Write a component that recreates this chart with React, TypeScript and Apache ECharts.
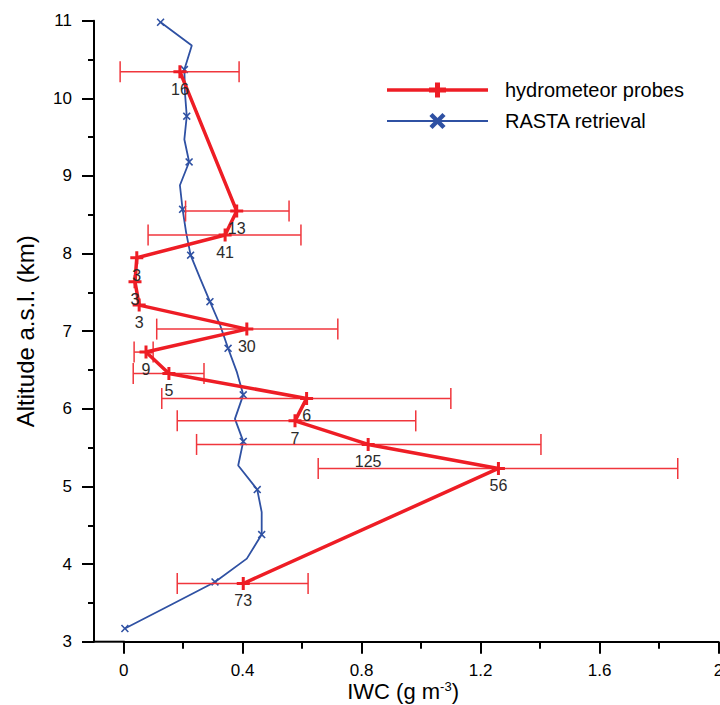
import React, { useEffect, useRef } from 'react';
import * as echarts from 'echarts';

// Hydrometeor probes (in-situ)
const probeIWC = [0.189, 0.38, 0.341, 0.044, 0.038, 0.052, 0.414, 0.075, 0.152, 0.615, 0.576, 0.822, 1.26, 0.402];
const probeAlt = [10.343, 8.548, 8.239, 7.946, 7.637, 7.336, 7.027, 6.731, 6.456, 6.134, 5.845, 5.541, 5.232, 3.75];
const probeLow = [-0.012, 0.208, 0.082, 0.044, 0.038, 0.052, 0.111, 0.035, 0.032, 0.128, 0.18, 0.245, 0.654, 0.18];
const probeHigh = [0.388, 0.556, 0.596, 0.044, 0.038, 0.052, 0.72, 0.099, 0.27, 1.1, 0.982, 1.403, 1.863, 0.62];
const probeCount = [16, 13, 41, 3, 3, 3, 30, 9, 5, 6, 7, 125, 56, 73];

// RASTA retrieval
const rastaAlt = [10.98, 10.68, 10.37, 10.07, 9.77, 9.47, 9.18, 8.88, 8.57, 8.27, 7.98, 7.68, 7.38, 7.08, 6.78, 6.48, 6.18, 5.87, 5.58, 5.27, 4.96, 4.67, 4.38, 4.07, 3.77, 3.47, 3.17];
const rastaIWC = [0.124, 0.229, 0.204, 0.206, 0.212, 0.204, 0.22, 0.189, 0.198, 0.21, 0.225, 0.257, 0.29, 0.324, 0.351, 0.38, 0.402, 0.374, 0.402, 0.385, 0.449, 0.464, 0.464, 0.414, 0.307, 0.156, 0.004];

const legendNames = ['hydrometeor probes', 'RASTA retrieval'];

const RED = '#ee1d25';
const ERR = '#f0363c';
const BLUE = '#2f51a3';
const FONT = 'Liberation Sans, Arial, sans-serif';

const PLUS = 'path://M5,0H8V5H13V8H8V13H5V8H0V5H5Z';
const CROSS = 'path://M1.4,0L5,3.6L8.6,0L10,1.4L6.4,5L10,8.6L8.6,10L5,6.4L1.4,10L0,8.6L3.6,5L0,1.4Z';

// layout
const GRID_LEFT = 123.7;
const GRID_RIGHT = 1.5;
const GRID_TOP = 20.7;
const GRID_BOTTOM = 63.3;
const Y_OFFSET = 29.7;
const H = 705;

export default function App() {
  const ref = useRef<HTMLDivElement>(null);
  useEffect(() => {
    if (!ref.current) return;
    const chart = echarts.init(ref.current, undefined, { renderer: 'svg' });
    const axisY = H - GRID_BOTTOM;
    const lx1 = 387, lx2 = 488, lcx = 437.5, ly1 = 90, ly2 = 121, ltx = 505;
    chart.setOption({
      animation: false,
      grid: {
        left: GRID_LEFT, right: GRID_RIGHT, top: GRID_TOP, bottom: GRID_BOTTOM,
        containLabel: false, outerBoundsMode: 'none',
      },
      xAxis: {
        type: 'value',
        min: 0,
        max: 2,
        interval: 0.4,
        name: '{a|IWC (g m}{s|-3}{a|)}',
        nameLocation: 'middle',
        nameGap: 38,
        nameMoveOverlap: false,
        nameTextStyle: {
          padding: [0, 36, 0, 0],
          rich: {
            a: { fontSize: 22, fontFamily: FONT, color: '#000', lineHeight: 24 },
            s: { fontSize: 13, fontFamily: FONT, color: '#000', verticalAlign: 'top', lineHeight: 24 },
          },
        },
        axisLine: { onZero: false, lineStyle: { color: '#000', width: 2 } },
        axisTick: { length: 12, lineStyle: { color: '#000', width: 2 } },
        minorTick: { show: true, splitNumber: 2, length: 7, lineStyle: { color: '#000', width: 2 } },
        axisLabel: { margin: 21, fontSize: 17, lineHeight: 16, fontFamily: FONT, color: '#000', hideOverlap: false },
        splitLine: { show: false },
      },
      yAxis: {
        type: 'value',
        min: 3,
        max: 11,
        interval: 1,
        offset: Y_OFFSET,
        name: 'Altitude a.s.l. (km)',
        nameLocation: 'middle',
        nameGap: 57,
        nameMoveOverlap: false,
        nameTextStyle: { fontSize: 24, fontFamily: FONT, color: '#000' },
        axisLine: { show: true, onZero: false, lineStyle: { color: '#000', width: 2 } },
        axisTick: { show: true, length: 12, lineStyle: { color: '#000', width: 2 } },
        minorTick: { show: true, splitNumber: 2, length: 6, lineStyle: { color: '#000', width: 2 } },
        axisLabel: { margin: 22, fontSize: 17, fontFamily: FONT, color: '#000' },
        splitLine: { show: false },
      },
      series: [
        {
          name: legendNames[1],
          type: 'line',
          z: 2,
          data: rastaIWC.map((x, i) => ({ value: [x, rastaAlt[i]], symbol: i % 2 === 0 ? CROSS : 'none' })),
          symbolSize: 8,
          lineStyle: { color: BLUE, width: 1.8 },
          itemStyle: { color: BLUE },
        },
        {
          type: 'custom',
          z: 3,
          clip: false,
          data: probeAlt.map((y, i) => [y, probeLow[i], probeHigh[i]]),
          encode: { x: [1, 2], y: 0 },
          renderItem: (params: any, api: any) => {
            const y = api.value(0);
            const lo = api.value(1);
            const hi = api.value(2);
            if (hi - lo < 1e-6) return null;
            const a = api.coord([lo, y]);
            const b = api.coord([hi, y]);
            const cap = 10.5;
            const st = { stroke: ERR, lineWidth: 1.5 };
            return {
              type: 'group',
              children: [
                { type: 'line', shape: { x1: a[0], y1: a[1], x2: b[0], y2: b[1] }, style: st },
                { type: 'line', shape: { x1: a[0], y1: a[1] - cap, x2: a[0], y2: a[1] + cap }, style: st },
                { type: 'line', shape: { x1: b[0], y1: b[1] - cap, x2: b[0], y2: b[1] + cap }, style: st },
              ],
            };
          },
        },
        {
          name: legendNames[0],
          type: 'line',
          z: 4,
          data: probeIWC.map((x, i) => [x, probeAlt[i]]),
          symbol: PLUS,
          symbolSize: 13,
          lineStyle: { color: RED, width: 3.5 },
          itemStyle: { color: RED },
          label: {
            show: true,
            position: 'bottom',
            distance: 3,
            fontSize: 16,
            fontFamily: FONT,
            color: '#2b2b2b',
            formatter: (p: any) => String(probeCount[p.dataIndex]),
          },
        },
      ],
      graphic: [
        // x-axis line continuation left of zero, up to the offset y axis
        { type: 'line', shape: { x1: GRID_LEFT - Y_OFFSET - 1, y1: axisY, x2: GRID_LEFT + 1, y2: axisY }, style: { stroke: '#000', lineWidth: 2 }, z: 10 },
        // legend
        { type: 'line', shape: { x1: lx1, y1: ly1, x2: lx2, y2: ly1 }, style: { stroke: RED, lineWidth: 3.5 } },
        { type: 'line', shape: { x1: lcx - 8.5, y1: ly1, x2: lcx + 8.5, y2: ly1 }, style: { stroke: RED, lineWidth: 5 } },
        { type: 'line', shape: { x1: lcx, y1: ly1 - 7.5, x2: lcx, y2: ly1 + 7.5 }, style: { stroke: RED, lineWidth: 5 } },
        { type: 'text', x: ltx, y: ly1, style: { text: legendNames[0], fontSize: 20, fontFamily: FONT, fill: '#000', verticalAlign: 'middle', align: 'left' } },
        { type: 'line', shape: { x1: lx1, y1: ly2, x2: lx2, y2: ly2 }, style: { stroke: BLUE, lineWidth: 2 } },
        { type: 'line', shape: { x1: lcx - 6.5, y1: ly2 - 6.5, x2: lcx + 6.5, y2: ly2 + 6.5 }, style: { stroke: BLUE, lineWidth: 4.5 } },
        { type: 'line', shape: { x1: lcx - 6.5, y1: ly2 + 6.5, x2: lcx + 6.5, y2: ly2 - 6.5 }, style: { stroke: BLUE, lineWidth: 4.5 } },
        { type: 'text', x: ltx, y: ly2, style: { text: legendNames[1], fontSize: 20, fontFamily: FONT, fill: '#000', verticalAlign: 'middle', align: 'left' } },
      ],
    });
    return () => chart.dispose();
  }, []);
  return <div ref={ref} style={{ position: 'absolute', left: 0, top: 0, width: 720, height: 705 }} />;
}
